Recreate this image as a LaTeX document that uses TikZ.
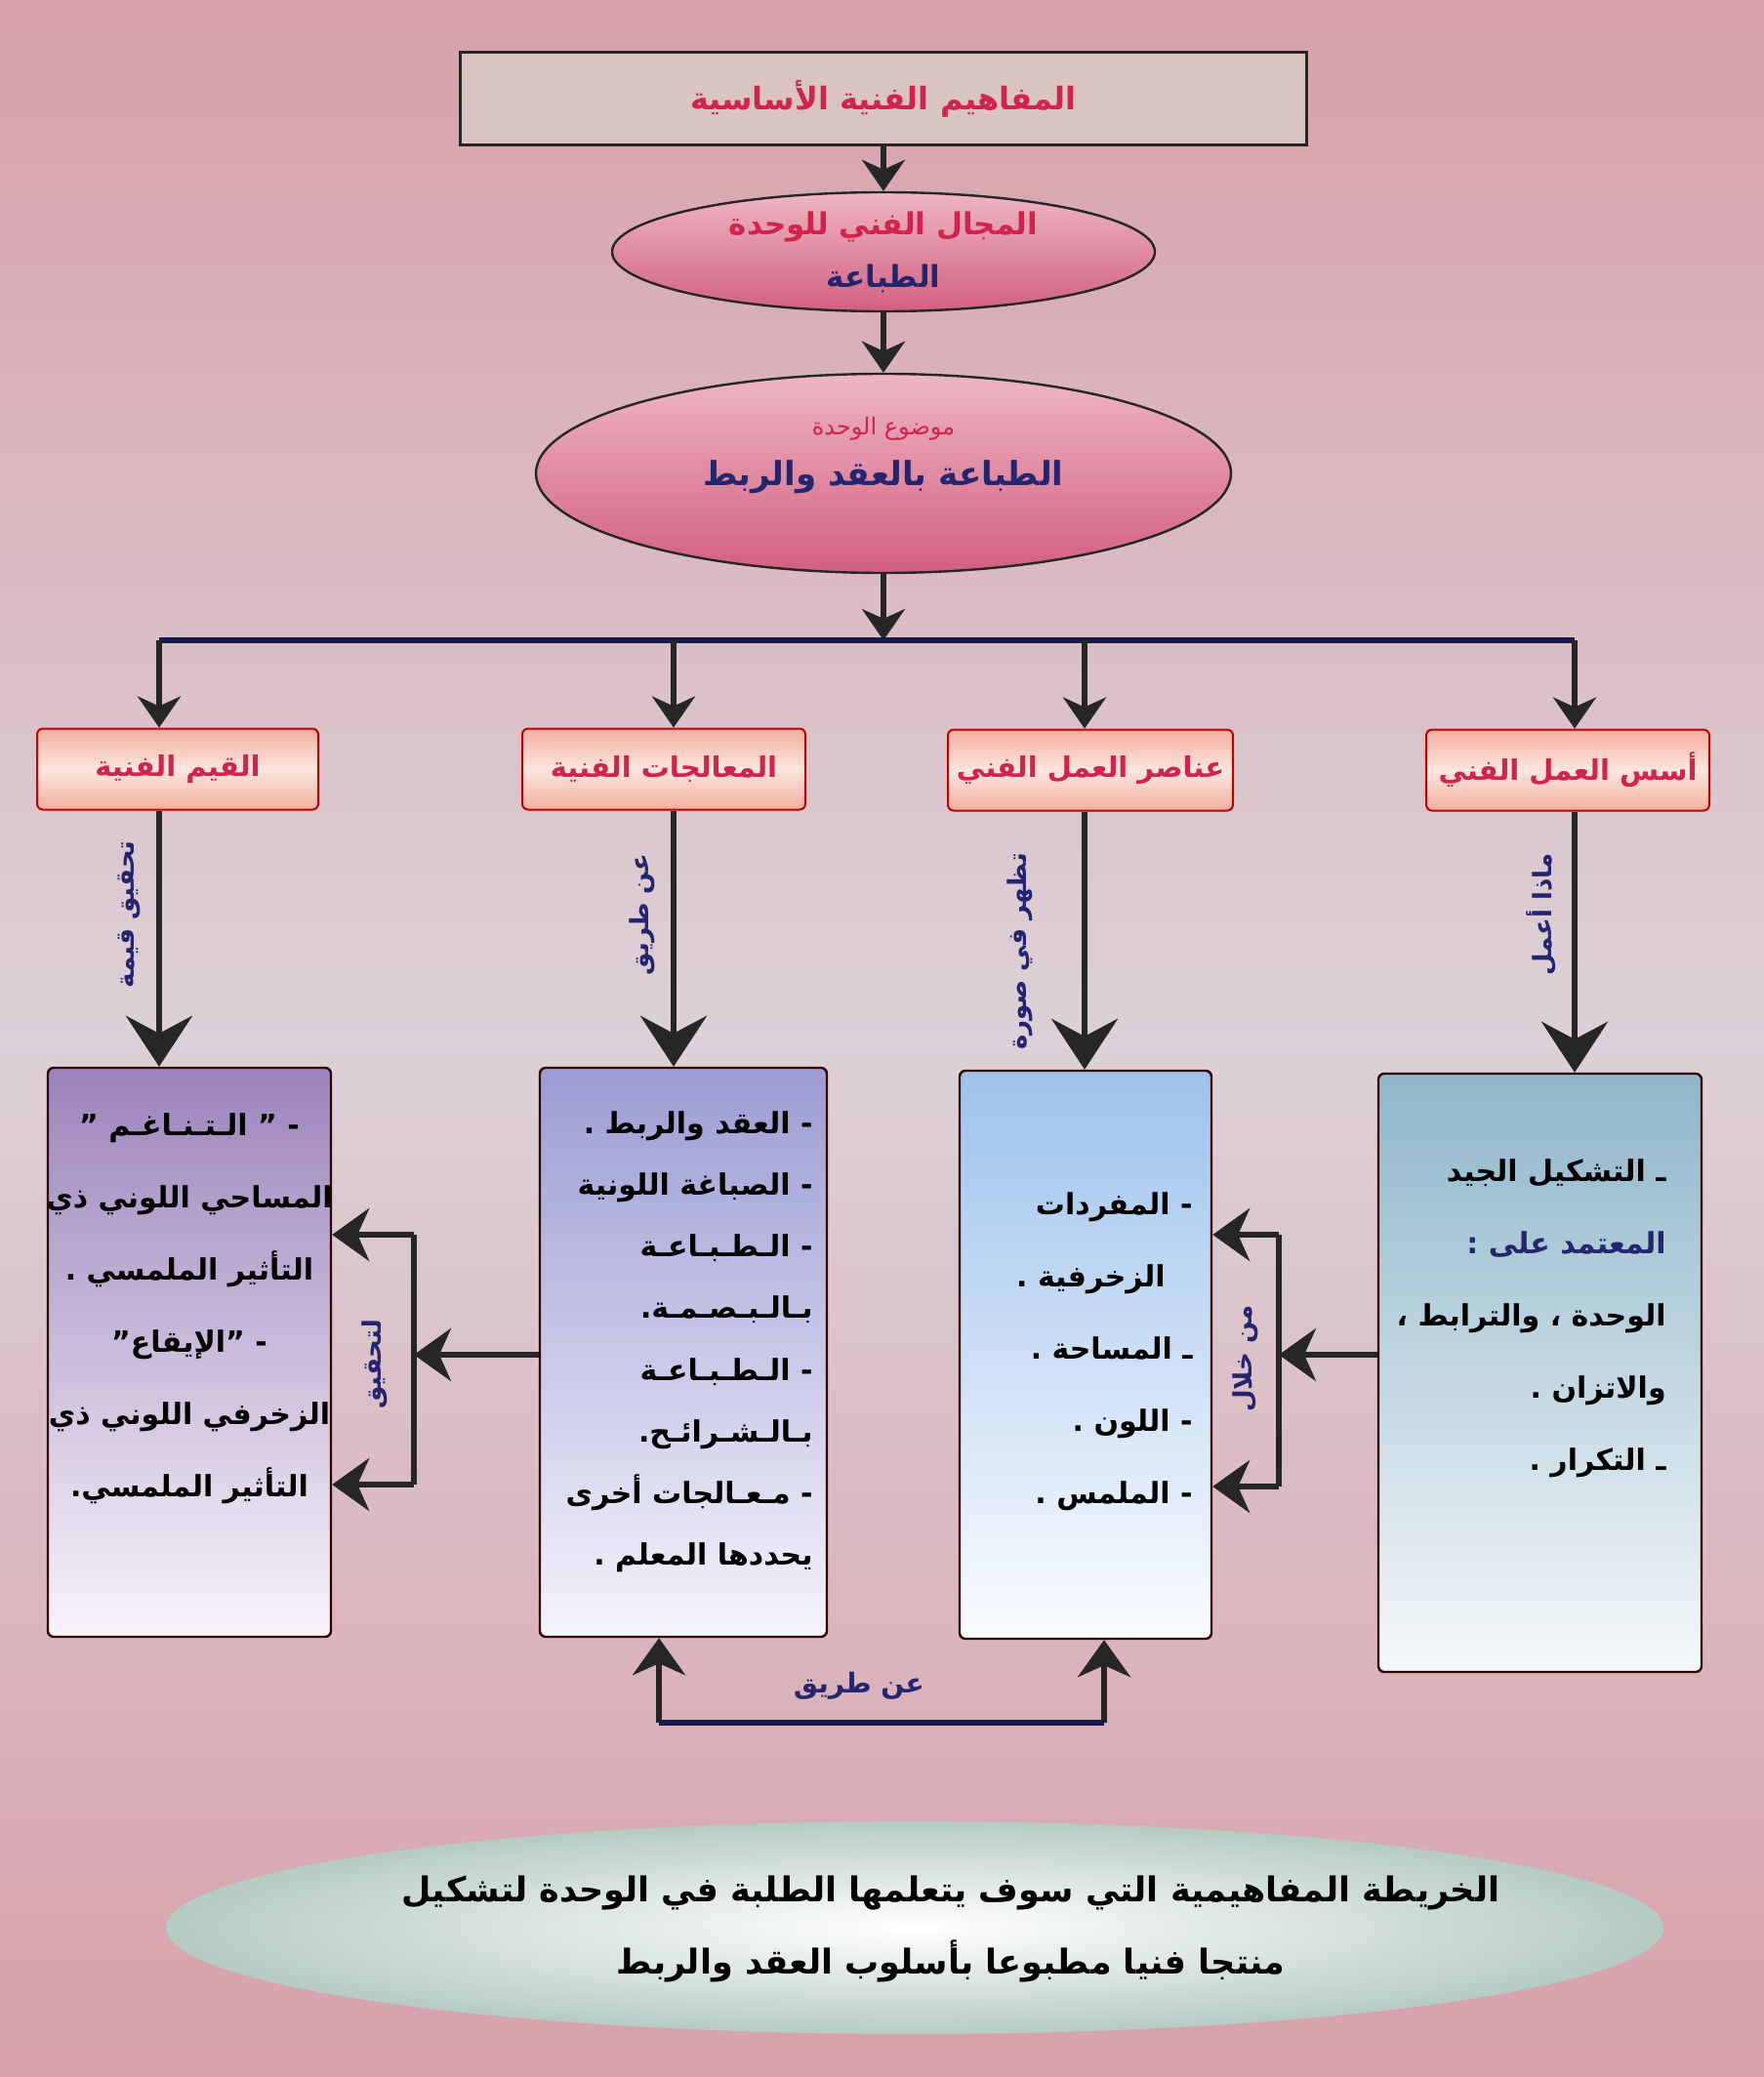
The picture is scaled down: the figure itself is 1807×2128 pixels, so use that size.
\documentclass[tikz,border=0pt]{standalone}
\usepackage{fontspec}
\TeXXeTstate=1
\newfontfamily\arabicfont[Script=Arabic]{DejaVu Sans}
\usetikzlibrary{shapes.geometric,arrows.meta,calc}
\newcommand\myR[1]{\beginR #1\endR}
\definecolor{crim}{HTML}{D2234E}
\definecolor{navyc}{HTML}{24256E}
\definecolor{darkc}{HTML}{262626}
\definecolor{bgpink}{HTML}{D8A0A9}
\definecolor{bgmid}{HTML}{DCD1D8}
\definecolor{titlefill}{HTML}{D9C4BF}
\definecolor{elltop}{HTML}{EEB6C3}
\definecolor{ellbot}{HTML}{D2607F}
\definecolor{peach}{HTML}{F3AE9E}
\definecolor{peachmid}{HTML}{FCE6DF}
\definecolor{Atop}{HTML}{9C84BC}
\definecolor{Abot}{HTML}{F8F4FA}
\definecolor{Btop}{HTML}{9C9CD4}
\definecolor{Bbot}{HTML}{F4F4FC}
\definecolor{Ctop}{HTML}{9EC2EC}
\definecolor{Cbot}{HTML}{FAFCFF}
\definecolor{Dtop}{HTML}{8FB6CA}
\definecolor{Dbot}{HTML}{F4F8FA}
\definecolor{footout}{HTML}{B6CBC3}
\begin{document}
\begin{tikzpicture}[x=0.5pt,y=-0.5pt,
  font=\arabicfont\bfseries,
  topbox/.style={draw=darkc,line width=1.5pt,fill=titlefill,minimum width=433.5pt,minimum height=47.5pt,inner sep=0pt,text=crim},
  ellbox/.style={ellipse,draw=darkc,line width=1.2pt,top color=elltop,bottom color=ellbot,inner sep=0pt},
  smallbox/.style={draw=red!75!black,line width=1pt,rounded corners=3pt,top color=peach,bottom color=peach,middle color=peachmid,minimum height=41.5pt,text=crim,inner sep=0pt,font=\arabicfont\bfseries\fontsize{14.5}{16}\selectfont},
  bigbox/.style={draw=black!80!red,line width=1.2pt,rounded corners=3pt,inner sep=0pt},
  boxtxt/.style={inner sep=0pt,text=black,font=\arabicfont\bfseries\fontsize{15}{37}\selectfont},
  vlabel/.style={rotate=90,text=navyc,inner sep=0pt,font=\arabicfont\bfseries\fontsize{13}{15}\selectfont},
  sarr/.style={draw=darkc,line width=2.6pt,-{Stealth[length=16pt,width=22pt,inset=5pt]}},
  barr/.style={draw=darkc,line width=3.2pt,-{Stealth[length=26pt,width=34pt,inset=9pt]}},
  marr/.style={draw=darkc,line width=3pt,-{Stealth[length=19pt,width=27pt,inset=6pt]}},
  plainln/.style={draw=darkc,line width=3pt},
  busln/.style={draw=navyc!70!black,line width=2.6pt}
]
\useasboundingbox (0,0) rectangle (1807,2128);
\shade[top color=bgpink,bottom color=bgpink,middle color=bgmid] (0,0) rectangle (1807,2128);

% top title
\node[topbox,font=\arabicfont\bfseries\fontsize{16}{20}\selectfont] (title) at (905,101) {\myR{المفاهيم الفنية الأساسية}};

% ellipse 1
\node[ellbox,minimum width=278pt,minimum height=61pt,align=center,font=\arabicfont\bfseries\fontsize{15.5}{27}\selectfont] (ell1) at (905,258)
  {\textcolor{crim}{\myR{المجال الفني للوحدة}}\\\textcolor{navyc}{\myR{الطباعة}}};

% ellipse 2
\node[ellbox,minimum width=356pt,minimum height=102pt] (ell2) at (905,485) {};
\node[inner sep=0pt,text=crim,font=\arabicfont\fontsize{12}{14}\selectfont] (ell2a) at (905,439) {\myR{موضوع الوحدة}};
\node[inner sep=0pt,text=navyc,font=\arabicfont\bfseries\fontsize{17}{20}\selectfont] (ell2b) at (905,489) {\myR{الطباعة بالعقد والربط}};

\draw[sarr] (title.south) -- (ell1.north);
\draw[sarr] (ell1.south) -- (ell2.north);

% bus
\coordinate (busA) at (163,656);
\coordinate (busB) at (690,656);
\coordinate (busC) at (1111,656);
\coordinate (busD) at (1613,656);
\draw[sarr] (ell2.south) -- (ell2.south |- busA);
\draw[busln] (busA) -- (busD);

% small boxes
\node[smallbox,minimum width=144pt] (Asm) at (182,788) {\myR{القيم الفنية}};
\node[smallbox,minimum width=145pt] (Bsm) at (680,788) {\myR{المعالجات الفنية}};
\node[smallbox,minimum width=146pt] (Csm) at (1117,789) {\myR{عناصر العمل الفني}};
\node[smallbox,minimum width=145pt] (Dsm) at (1606,789) {\myR{أسس العمل الفني}};

\draw[sarr] (busA) -- (busA |- Asm.north);
\draw[sarr] (busB) -- (busB |- Bsm.north);
\draw[sarr] (busC) -- (busC |- Csm.north);
\draw[sarr] (busD) -- (busD |- Dsm.north);

% big boxes
\node[bigbox,top color=Atop,bottom color=Abot,minimum width=145pt,minimum height=291.5pt] (Abig) at (194,1385.5) {};
\node[bigbox,top color=Btop,bottom color=Bbot,minimum width=147pt,minimum height=291.5pt] (Bbig) at (700,1385.5) {};
\node[bigbox,top color=Ctop,bottom color=Cbot,minimum width=129pt,minimum height=291pt] (Cbig) at (1112,1388) {};
\node[bigbox,top color=Dtop,bottom color=Dbot,minimum width=165.5pt,minimum height=306.5pt] (Dbig) at (1577.5,1406.5) {};

% vertical arrows small -> big
\draw[barr] (busA |- Asm.south) -- (busA |- Abig.north);
\draw[barr] (busB |- Bsm.south) -- (busB |- Bbig.north);
\draw[barr] (busC |- Csm.south) -- (busC |- Cbig.north);
\draw[barr] (busD |- Dsm.south) -- (busD |- Dbig.north);

% vertical labels
\node[vlabel] (lA) at (132,937) {\myR{تحقيق قيمة}};
\node[vlabel] (lB) at (658,937) {\myR{عن طريق}};
\node[vlabel] (lC) at (1045,975) {\myR{تظهر في صورة}};
\node[vlabel] (lD) at (1579,937) {\myR{ماذا أعمل}};

% texts inside big boxes
\node[boxtxt,align=center,anchor=north] (Atxt) at (194,1140) {%
\myR{- ” الـتـنـاغـم ”}\\
\myR{المساحي اللوني ذي}\\
\myR{التأثير الملمسي .}\\
\myR{- ”الإيقاع”}\\
\myR{الزخرفي اللوني ذي}\\
\myR{التأثير الملمسي.}};

\node[boxtxt,align=right,anchor=north east,font=\arabicfont\bfseries\fontsize{15}{31.6}\selectfont] (Btxt) at (833,1138) {%
\myR{- العقد والربط .}\\
\myR{- الصباغة اللونية}\\
\myR{- الـطـبـاعـة}\\
\myR{بـالـبـصـمـة.}\\
\myR{- الـطـبـاعـة}\\
\myR{بـالـشـرائـح.}\\
\myR{- مـعـالجات أخرى}\\
\myR{يحددها المعلم .}};

\node[boxtxt,align=right,anchor=north east] (Ctxt) at (1222,1221) {%
\myR{- المفردات}\\
\myR{الزخرفية .}\rule{14pt}{0pt}\\
\myR{ـ المساحة .}\\
\myR{- اللون .}\\
\myR{- الملمس .}};

\node[boxtxt,align=right,anchor=north east] (Dtxt) at (1707,1187) {%
\myR{ـ التشكيل الجيد}\\
\textcolor{navyc}{\myR{المعتمد على :}}\\
\myR{الوحدة ، والترابط ،}\\
\myR{والاتزان .}\\
\myR{ـ التكرار .}};

% left bracket (B -> A)
\coordinate (brL) at (424,1388);
\coordinate (brLt) at (424,1265);
\coordinate (brLb) at (424,1521);
\draw[marr] (Bbig.west |- brL) -- (brL);
\draw[plainln] (brLt) -- (brLb);
\draw[marr] (brLt) -- (brLt -| Abig.east);
\draw[marr] (brLb) -- (brLb -| Abig.east);
\node[vlabel] (lL) at (384,1398) {\myR{لتحقيق}};

% right bracket (D -> C)
\coordinate (brR) at (1310,1388);
\coordinate (brRt) at (1310,1265);
\coordinate (brRb) at (1310,1523);
\draw[marr] (Dbig.west |- brR) -- (brR);
\draw[plainln] (brRt) -- (brRb);
\draw[marr] (brRt) -- (brRt -| Cbig.east);
\draw[marr] (brRb) -- (brRb -| Cbig.east);
\node[vlabel] (lR) at (1276,1392) {\myR{من خلال}};

% bottom connection B <- -> C
\coordinate (bl) at (675,1765);
\coordinate (br) at (1131,1765);
\draw[marr] (bl) -- (bl |- Bbig.south);
\draw[marr] (br) -- (br |- Cbig.south);
\draw[busln,line width=3pt] (bl) -- (br);
\node[text=navyc,inner sep=0pt,font=\arabicfont\bfseries\fontsize{14}{16}\selectfont] (lBot) at (880,1727) {\myR{عن طريق}};

% bottom ellipse
\node[ellipse,inner color=white,outer color=footout,minimum width=767pt,minimum height=109pt,inner sep=0pt] (foot) at (937,1975) {};
\node[inner sep=0pt,align=center,font=\arabicfont\bfseries\fontsize{17.5}{37}\selectfont] (foottxt) at (974,1976)
  {\myR{الخريطة المفاهيمية التي سوف يتعلمها الطلبة في الوحدة لتشكيل}\\\myR{منتجا فنيا مطبوعا بأسلوب العقد والربط}};
\end{tikzpicture}
\end{document}
